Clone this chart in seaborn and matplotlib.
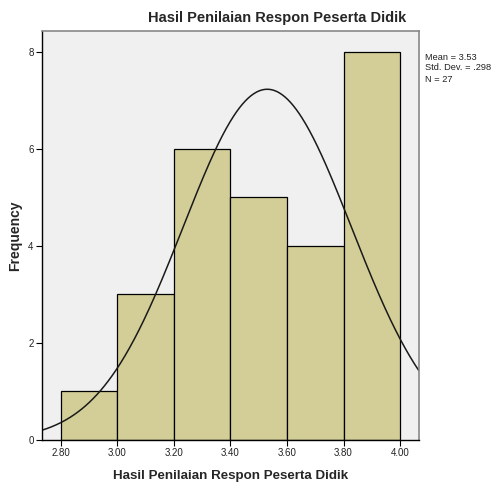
import numpy as np
import pandas as pd
import matplotlib
matplotlib.use("Agg")
import matplotlib.pyplot as plt
import seaborn as sns

# Histogram of scores: bin edges and frequencies
bin_edges = [2.80, 3.00, 3.20, 3.40, 3.60, 3.80, 4.00]
counts = [1, 3, 6, 5, 4, 8]
x_ticks = [2.80, 3.00, 3.20, 3.40, 3.60, 3.80, 4.00]
x_tick_labels = ["2.80", "3.00", "3.20", "3.40", "3.60", "3.80", "4.00"]
y_ticks = [0, 2, 4, 6, 8]

mean_val = 3.53
sd_val = 0.298
n_val = 27

title = "Hasil Penilaian Respon Peserta Didik"
x_label = "Hasil Penilaian Respon Peserta Didik"
y_label = "Frequency"

sns.set_style("white")
plt.rcParams["font.family"] = ["Liberation Sans", "DejaVu Sans"]

mids = [(a + b) / 2 for a, b in zip(bin_edges[:-1], bin_edges[1:])]
df = pd.DataFrame({"score": mids, "freq": counts})

fig = plt.figure(figsize=(4.95, 4.83), dpi=100)
ax = fig.add_axes([42 / 495, 1 - 440 / 483, (419 - 42) / 495, (440 - 31) / 483])
ax.set_facecolor("#F0F0F0")

sns.histplot(data=df, x="score", weights="freq", bins=bin_edges, ax=ax,
             color="#D3CE97", edgecolor="black", linewidth=0.9, alpha=1.0)

# Fitted normal curve scaled to counts
bw = bin_edges[1] - bin_edges[0]
xmin, xmax = 2.733, 4.067
xs = np.linspace(xmin, xmax, 400)
ys = n_val * bw / (sd_val * np.sqrt(2 * np.pi)) * np.exp(-0.5 * ((xs - mean_val) / sd_val) ** 2)
sns.lineplot(x=xs, y=ys, ax=ax, color="#1a1a1a", linewidth=1.1)

ax.set_xlim(xmin, xmax)
ax.set_ylim(0, 8.43)
ax.set_xticks(x_ticks)
ax.set_xticklabels(x_tick_labels)
ax.set_yticks(y_ticks)
ax.tick_params(axis="both", labelsize=7, length=4, width=0.8, color="black",
               labelcolor="#222222", direction="out", pad=2, bottom=True, left=True)
ax.set_xlabel("")
ax.set_ylabel("")

for side in ["left", "bottom"]:
    ax.spines[side].set_color("black")
    ax.spines[side].set_linewidth(1.0)
for side in ["top", "right"]:
    ax.spines[side].set_color("#888888")
    ax.spines[side].set_linewidth(1.2)

fig.text(277 / 495, 1 - 18 / 483, title, ha="center", va="center",
         fontsize=10.5, fontweight="bold")
fig.text(231 / 495, 1 - 476 / 483, x_label, ha="center", va="center",
         fontsize=9.6, fontweight="bold")
fig.text(15 / 495, 1 - 236 / 483, y_label, ha="center", va="center",
         rotation=90, fontsize=10, fontweight="bold")

stats_lines = [f"Mean = {mean_val:.2f}",
               f"Std. Dev. = {str(sd_val).lstrip('0')}",
               f"N = {n_val}"]
for i, line in enumerate(stats_lines):
    fig.text(425 / 495, 1 - (57 + 11 * i) / 483, line, ha="left", va="center",
             fontsize=6.7, color="#222222",
             family=["Liberation Sans Narrow", "Liberation Sans"])

fig.savefig("out.png", dpi=100, facecolor="white")
